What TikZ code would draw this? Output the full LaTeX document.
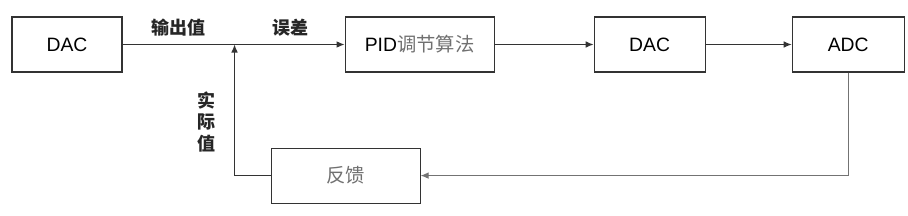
\documentclass[tikz,border=0pt]{standalone}
\usepackage{fontspec}
\setmainfont{Liberation Sans}
\newfontfamily\cjk{Noto Sans CJK SC}
\usetikzlibrary{positioning,arrows.meta,calc}
\definecolor{boxline}{HTML}{333333}
\definecolor{greytext}{HTML}{707070}
\tikzset{
  block/.style={
    draw=boxline, line width=0.8pt,
    minimum height=41.25pt, minimum width=82.5pt,
    align=center, font=\fontsize{14.5pt}{17pt}\selectfont, inner sep=1.5mm
  },
  wideblock/.style={block, minimum width=111.75pt},
  sig/.style={font=\cjk\bfseries\fontsize{13.5pt}{16pt}\selectfont, text=black!85},
  arrow/.style={-{Latex[length=6pt,width=5pt]}, line width=0.8pt, draw=boxline}
}
\begin{document}
\begin{tikzpicture}
  \useasboundingbox (0,0) rectangle (681pt,-161.25pt);
  \node[block] (dac1) at (50.25pt,-33.375pt) {DAC};
  \node[wideblock, right=166.5pt of dac1] (pid) {PID{\cjk\color{greytext}调节算法}};
  \node[block, right=74.25pt of pid, minimum width=83.25pt] (dac2) {DAC};
  \node[block, right=64.5pt of dac2, minimum width=84pt] (adc) {ADC};
  \node[wideblock, below right=56.25pt and 111pt of dac1] (fb) {\cjk\color{greytext}反馈};

  \coordinate (sum) at ($(dac1.east)+(84pt,0)$);

  \node[sig] (out) at ($(dac1.east)+(42pt,12.75pt)$) {输出值};
  \node[sig] (err) at ($(sum)+(42pt,12.75pt)$) {误差};
  \node[sig, align=center, font=\cjk\bfseries\fontsize{13.5pt}{16pt}\selectfont] (act) at ($(sum)+(-21pt,-58pt)$) {实\\际\\值};

  \draw[arrow] (dac1) -- (pid);
  \draw[arrow] (pid) -- (dac2);
  \draw[arrow] (dac2) -- (adc);
  \draw[arrow, draw=black!55] (adc.south) |- (fb.east);
  \draw[arrow] (fb.west) -| (sum);
\end{tikzpicture}
\end{document}
